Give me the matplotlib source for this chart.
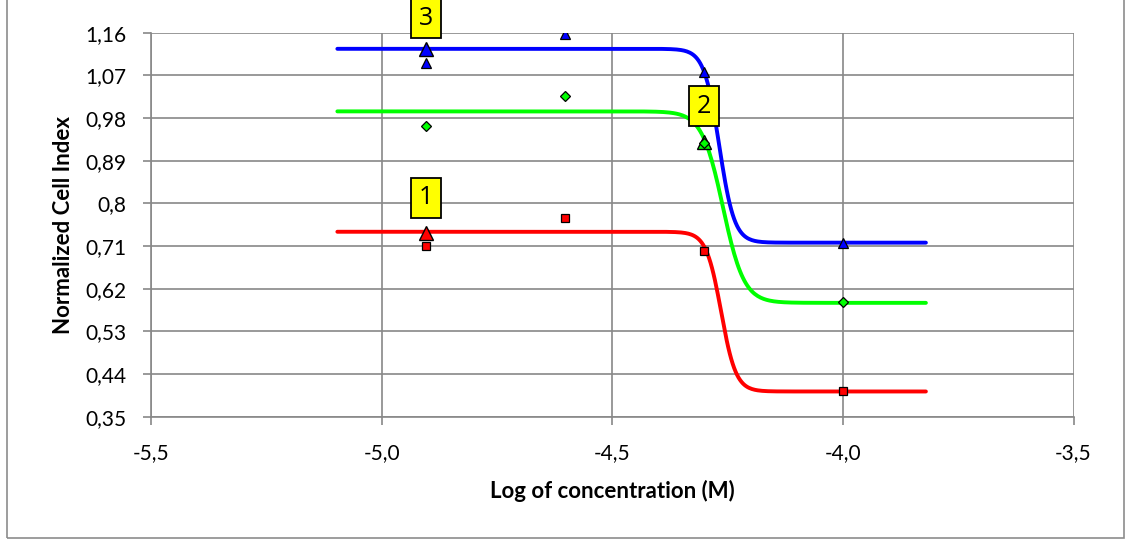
"""Normalized cell index vs log concentration, three fitted dose-response curves."""
import numpy as np
import matplotlib
matplotlib.use('Agg')
import matplotlib.pyplot as plt
from matplotlib.patches import Rectangle

plt.rcParams['font.family'] = ['Lato', 'DejaVu Sans']

# measured points (log M)
log_conc = [-4.903, -4.602, -4.301, -4.0]
ci_red = [0.711, 0.770, 0.700, 0.403]     # squares
ci_green = [0.964, 1.027, 0.928, 0.591]   # diamonds
ci_blue = [1.097, 1.158, 1.078, 0.717]    # triangles

# fitted sigmoid parameters: top, bottom, logEC50, hill slope
fit_red = [0.740, 0.403, -4.264, 27.0]
fit_green = [0.994, 0.590, -4.260, 19.0]
fit_blue = [1.126, 0.717, -4.268, 26.5]
fit_range = [-5.096, -3.82]

# label markers and boxes
label_text = ['1', '2', '3']
label_x = [-4.903, -4.301, -4.903]
label_marker_y = [0.737, 0.930, 1.126]
label_box_y = [0.812, 1.005, 1.190]
label_color = ['#FF0000', '#00FF00', '#0000FF']

x_ticks = [-5.5, -5.0, -4.5, -4.0, -3.5]
x_ticklabels = ['-5,5', '-5,0', '-4,5', '-4,0', '-3,5']
y_ticks = [0.35, 0.44, 0.53, 0.62, 0.71, 0.80, 0.89, 0.98, 1.07, 1.16]
y_ticklabels = ['0,35', '0,44', '0,53', '0,62', '0,71', '0,8', '0,89', '0,98', '1,07', '1,16']

GRID = '#888888'
BOX_W, BOX_H = 0.065, 0.084   # label box size in data units


def sigmoid(x, p):
    top, bottom, x0, h = p
    return bottom + (top - bottom) / (1 + 10 ** ((x - x0) * h))


fig = plt.figure(figsize=(11.31, 5.42), dpi=100)
W, H = 1131, 542
ax = fig.add_axes([151 / W, 1 - 416.6 / H, (1073.5 - 151) / W, (416.6 - 32.7) / H])

# outer chart border (top edge sits just off the image)
fig.patches.append(Rectangle((7 / W, 1 - 538 / H), (1124 - 7) / W, (538 + 10) / H,
                             transform=fig.transFigure, fill=False,
                             edgecolor='#8c8c8c', linewidth=1.2))

xs = np.linspace(fit_range[0], fit_range[1], 400)
for p, c in [(fit_red, '#FF0000'), (fit_green, '#00FF00'), (fit_blue, '#0000FF')]:
    ax.plot(xs, sigmoid(xs, p), color=c, linewidth=2.8, solid_capstyle='round', zorder=3)

for t, lx, my, by, c in zip(label_text, label_x, label_marker_y, label_box_y, label_color):
    ax.plot(lx, my, '^', color=c, mec='black', mew=1.0, ms=10, zorder=5, clip_on=False)
    ax.add_patch(Rectangle((lx - BOX_W / 2, by - BOX_H / 2), BOX_W, BOX_H,
                           facecolor='#FFFF00', edgecolor='black', linewidth=1.3,
                           zorder=7, clip_on=False))
    ax.text(lx, by, t, ha='center', va='center', fontsize=18, zorder=8, clip_on=False,
            family=['Open Sans', 'DejaVu Sans'])

ax.plot(log_conc, ci_red, 's', color='#FF0000', mec='black', mew=0.9, ms=6, zorder=6)
ax.plot(log_conc, ci_green, 'D', color='#00FF00', mec='black', mew=0.9, ms=5, zorder=6)
ax.plot(log_conc, ci_blue, '^', color='#0000FF', mec='black', mew=0.9, ms=6.5, zorder=6)

ax.set_xlim(-5.5, -3.5)
ax.set_ylim(0.35, 1.16)
ax.set_xticks(x_ticks)
ax.set_xticklabels(x_ticklabels)
ax.set_yticks(y_ticks)
ax.set_yticklabels(y_ticklabels)
ax.grid(True, color=GRID, linewidth=1.2)
ax.set_axisbelow(True)
for s in ['top', 'right']:
    ax.spines[s].set_visible(False)
for s in ['left', 'bottom']:
    ax.spines[s].set_color(GRID)
    ax.spines[s].set_linewidth(1.2)
ax.tick_params(axis='both', colors=GRID, labelcolor='black', length=6, width=1.2,
               labelsize=15)
ax.tick_params(axis='y', pad=12)
ax.tick_params(axis='x', pad=13)

ax.set_xlabel('Log of concentration (M)', fontsize=16, fontweight='bold', labelpad=12)
ax.set_ylabel('Normalized Cell Index', fontsize=16, fontweight='bold', labelpad=8)

fig.savefig('out.png', dpi=100)
